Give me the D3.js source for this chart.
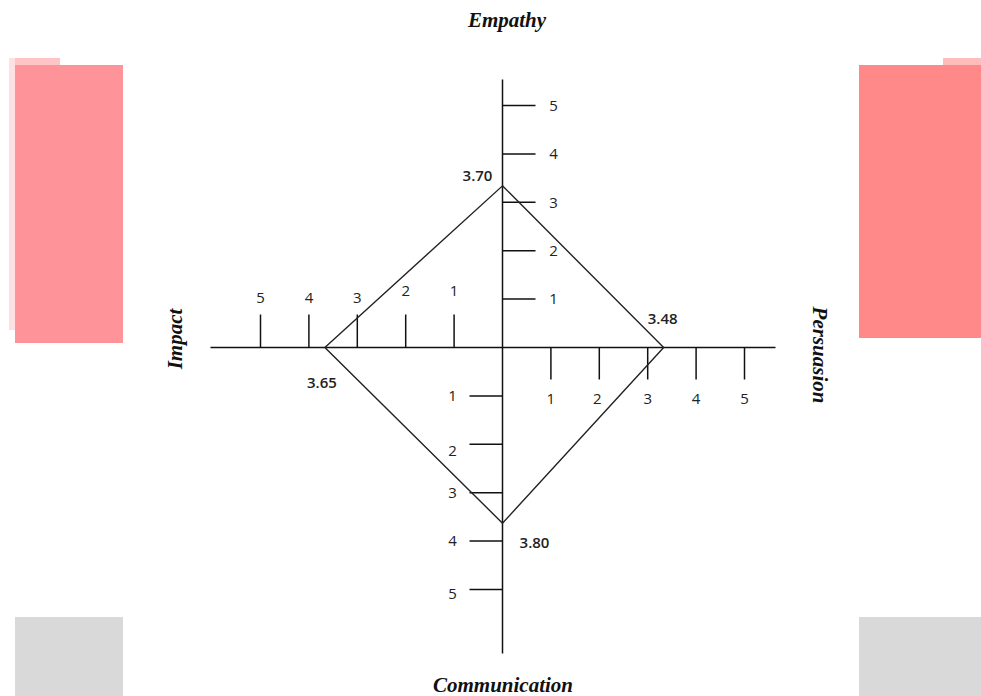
<!DOCTYPE html>
<html lang="en">
<head>
<meta charset="utf-8">
<title>Empathy / Persuasion / Communication / Impact</title>
<script src="https://d3js.org/d3.v7.min.js"></script>
<style>
  body { margin: 0; background: #fff; }
  .tick-label { font-family: "Open Sans", sans-serif; font-size: 15px; fill: #222; }
  .value-label { font-family: "Open Sans", sans-serif; font-size: 15px; font-weight: 600; fill: #222; }
  .axis-title { font-family: "Liberation Serif", serif; font-size: 21px; font-weight: bold; font-style: italic; fill: #111; }
</style>
</head>
<body>
<div id="chart"></div>
<script>
// axis names, clockwise from the top
var axes = ["Empathy", "Persuasion", "Communication", "Impact"];
// scores as printed next to the diamond corners
var scores = ["3.70", "3.48", "3.80", "3.65"];
// where the corners actually sit on the tick scale in the picture
var plotted = [3.34, 3.33, 3.63, 3.67];
var ticks = [1, 2, 3, 4, 5];

var width = 981, height = 696;
var cx = 502.5, cy = 347.5;

var svg = d3.select("#chart").append("svg")
  .attr("width", width)
  .attr("height", height);

// background blocks from the source page
var bg = svg.append("g");
bg.append("rect").attr("x", 15).attr("y", 65).attr("width", 108).attr("height", 278).attr("fill", "#fe9499");
bg.append("rect").attr("x", 9).attr("y", 58).attr("width", 6).attr("height", 272).attr("fill", "#ffe0e2");
bg.append("rect").attr("x", 15).attr("y", 58).attr("width", 45).attr("height", 7).attr("fill", "#ffc4c6");
bg.append("rect").attr("x", 859).attr("y", 65).attr("width", 122).attr("height", 273).attr("fill", "#ff8888");
bg.append("rect").attr("x", 943).attr("y", 58).attr("width", 38).attr("height", 7).attr("fill", "#ffbcbc");
bg.append("rect").attr("x", 15).attr("y", 617).attr("width", 108).attr("height", 79).attr("fill", "#d9d9d9");
bg.append("rect").attr("x", 859).attr("y", 617).attr("width", 122).attr("height", 79).attr("fill", "#d9d9d9");

var r = d3.scaleLinear().domain([0, 5]).range([0, 242]);

var g = svg.append("g").attr("transform", `translate(${cx},${cy})`);

// main cross
g.append("line").attr("x1", 0).attr("x2", 0).attr("y1", -268).attr("y2", 306)
  .attr("stroke", "#111").attr("stroke-width", 1.5);
g.append("line").attr("x1", -292).attr("x2", 273).attr("y1", 0).attr("y2", 0)
  .attr("stroke", "#111").attr("stroke-width", 1.5);

var tickStyle = sel => sel.attr("stroke", "#111").attr("stroke-width", 1.5);

// Empathy (up): ticks go right, labels right
g.selectAll(".t-up").data(ticks).enter().append("line")
  .attr("x1", 0).attr("x2", 33)
  .attr("y1", d => -r(d)).attr("y2", d => -r(d)).call(tickStyle);
g.selectAll(".l-up").data(ticks).enter().append("text")
  .attr("class", "tick-label")
  .attr("x", 51).attr("y", d => -r(d)).attr("dy", "0.35em")
  .attr("text-anchor", "middle").text(d => d);

// Persuasion (right): ticks go down, labels below
g.selectAll(".t-right").data(ticks).enter().append("line")
  .attr("y1", 0).attr("y2", 32)
  .attr("x1", d => r(d)).attr("x2", d => r(d)).call(tickStyle);
g.selectAll(".l-right").data(ticks).enter().append("text")
  .attr("class", "tick-label")
  .attr("y", 51).attr("x", d => r(d) - (d === 2 ? 2 : 0)).attr("dy", "0.35em")
  .attr("text-anchor", "middle").text(d => d);

// Communication (down): ticks go left, labels left
g.selectAll(".t-down").data(ticks).enter().append("line")
  .attr("x1", 0).attr("x2", -33)
  .attr("y1", d => r(d)).attr("y2", d => r(d)).call(tickStyle);
g.selectAll(".l-down").data(ticks).enter().append("text")
  .attr("class", "tick-label")
  .attr("x", -50).attr("y", d => r(d) + (d === 2 ? 6 : d === 5 ? 4 : 0)).attr("dy", "0.35em")
  .attr("text-anchor", "middle").text(d => d);

// Impact (left): ticks go up, labels above
g.selectAll(".t-left").data(ticks).enter().append("line")
  .attr("y1", 0).attr("y2", -33)
  .attr("x1", d => -r(d)).attr("x2", d => -r(d)).call(tickStyle);
g.selectAll(".l-left").data(ticks).enter().append("text")
  .attr("class", "tick-label")
  .attr("y", d => d <= 2 ? -57 : -50).attr("x", d => -r(d)).attr("dy", "0.35em")
  .attr("text-anchor", "middle").text(d => d);

// diamond
var dirs = [[0, -1], [1, 0], [0, 1], [-1, 0]];
var pts = plotted.map((v, i) => [dirs[i][0] * r(v), dirs[i][1] * r(v)]);
g.append("path")
  .attr("d", d3.line()(pts) + "Z")
  .attr("fill", "none")
  .attr("stroke", "#222")
  .attr("stroke-width", 1.4);

// score labels
var scoreOffset = [[-25, -10], [-1, -29], [32, 20], [-3, 35]];
g.selectAll(".score").data(scores).enter().append("text")
  .attr("class", "value-label")
  .attr("x", (d, i) => pts[i][0] + scoreOffset[i][0])
  .attr("y", (d, i) => pts[i][1] + scoreOffset[i][1])
  .attr("dy", "0.35em")
  .attr("text-anchor", "middle")
  .text(d => d);

// axis titles
svg.append("text").attr("class", "axis-title")
  .attr("x", 507).attr("y", 20).attr("dy", "0.35em")
  .attr("text-anchor", "middle").text(axes[0]);
svg.append("text").attr("class", "axis-title")
  .attr("transform", "translate(820,355) rotate(90)").attr("dy", "0.35em")
  .attr("text-anchor", "middle").text(axes[1]);
svg.append("text").attr("class", "axis-title")
  .attr("x", 503).attr("y", 685).attr("dy", "0.35em")
  .attr("text-anchor", "middle").text(axes[2]);
svg.append("text").attr("class", "axis-title")
  .attr("transform", "translate(175,339) rotate(-90)").attr("dy", "0.35em")
  .attr("text-anchor", "middle").text(axes[3]);
</script>
</body>
</html>
